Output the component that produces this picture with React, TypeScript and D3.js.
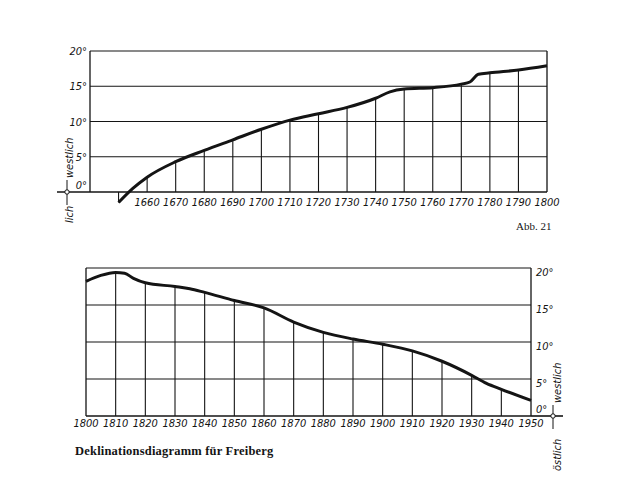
import React from "react";
import * as d3 from "d3";

// Upper diagram: declination 1650–1800 (degrees west)
const topYears = [1650, 1655, 1660, 1670, 1680, 1690, 1700, 1710, 1720, 1730, 1740, 1745, 1750, 1760, 1770, 1773, 1776, 1780, 1790, 1800];
const topValues = [-1.5, 0.5, 2.1, 4.3, 5.9, 7.4, 8.9, 10.2, 11.1, 12.0, 13.3, 14.2, 14.6, 14.8, 15.3, 15.6, 16.7, 16.9, 17.3, 17.9];
const topTicks = [1660, 1670, 1680, 1690, 1700, 1710, 1720, 1730, 1740, 1750, 1760, 1770, 1780, 1790, 1800];

// Lower diagram: declination 1800–1950
const botYears = [1800, 1805, 1810, 1813, 1816, 1820, 1830, 1835, 1840, 1850, 1860, 1870, 1880, 1890, 1900, 1910, 1920, 1930, 1935, 1940, 1950];
const botValues = [18.2, 19.0, 19.4, 19.3, 18.6, 18.0, 17.5, 17.2, 16.7, 15.6, 14.6, 12.7, 11.3, 10.4, 9.7, 8.8, 7.4, 5.5, 4.4, 3.6, 2.1];
const botTicks = [1800, 1810, 1820, 1830, 1840, 1850, 1860, 1870, 1880, 1890, 1900, 1910, 1920, 1930, 1940, 1950];

const degTicks = [0, 5, 10, 15, 20];
const degLabels = ["0°", "5°", "10°", "15°", "20°"];

const INK = "#141414";
const LBL = "'Liberation Sans Narrow', 'DejaVu Sans Condensed', sans-serif";

function valueAt(years: number[], values: number[], yr: number) {
  const i = years.indexOf(yr);
  if (i >= 0) return values[i];
  return d3.scaleLinear().domain(years).range(values)(yr);
}

export default function App() {
  // top scales
  const xT = d3.scaleLinear().domain([1640, 1800]).range([90, 547]);
  const yT = d3.scaleLinear().domain([0, 20]).range([192, 51]);
  // bottom scales
  const xB = d3.scaleLinear().domain([1800, 1950]).range([86, 531]);
  const yB = d3.scaleLinear().domain([0, 20]).range([416, 268]);

  const lineT = d3
    .line<number>()
    .x((_, i) => xT(topYears[i]))
    .y((d) => yT(d))
    .curve(d3.curveMonotoneX);
  const lineB = d3
    .line<number>()
    .x((_, i) => xB(botYears[i]))
    .y((d) => yB(d))
    .curve(d3.curveMonotoneX);

  const labelStyle: React.CSSProperties = {
    fontFamily: LBL,
    fontStyle: "italic",
    fontSize: 11,
    fill: INK,
  };

  return (
    <svg
      width={640}
      height={480}
      viewBox="0 0 640 480"
      style={{ position: "absolute", left: 0, top: 0, background: "#fff" }}
    >
      <rect x={0} y={0} width={640} height={480} fill="#fff" />

      {/* ===== TOP DIAGRAM ===== */}
      <g>
        {degTicks.map((d) => (
          <line key={"th" + d} x1={xT(1640)} x2={xT(1800)} y1={yT(d)} y2={yT(d)} stroke={INK} strokeWidth={d === 0 ? 1.6 : 1.1} />
        ))}
        <line x1={57} x2={xT(1640)} y1={yT(0)} y2={yT(0)} stroke={INK} strokeWidth={1.6} />
        <line x1={xT(1640)} x2={xT(1640)} y1={yT(0)} y2={yT(20)} stroke={INK} strokeWidth={1.3} />
        <line x1={xT(1800)} x2={xT(1800)} y1={yT(0)} y2={yT(20)} stroke={INK} strokeWidth={1.3} />
        {topTicks.slice(0, -1).map((yr) => (
          <line key={"tv" + yr} x1={xT(yr)} x2={xT(yr)} y1={yT(0)} y2={yT(valueAt(topYears, topValues, yr))} stroke={INK} strokeWidth={1.1} />
        ))}
        <line x1={xT(topYears[0])} x2={xT(topYears[0])} y1={yT(0)} y2={yT(topValues[0])} stroke={INK} strokeWidth={1.1} />
        <path d={lineT(topValues) || ""} fill="none" stroke={INK} strokeWidth={3} strokeLinejoin="round" />
        {degTicks.map((d, i) => (
          <text key={"tl" + d} x={87} y={d === 0 ? yT(0) - 3 : yT(d) + 4} textAnchor="end" style={labelStyle}>
            {degLabels[i]}
          </text>
        ))}
        {topTicks.map((yr) => (
          <text key={"ty" + yr} x={xT(yr)} y={206} textAnchor="middle" style={labelStyle}>
            {yr}
          </text>
        ))}
        <line x1={67} x2={67} y1={180} y2={205} stroke={INK} strokeWidth={1} />
        <circle cx={67} cy={yT(0)} r={2.2} fill="#fff" stroke={INK} strokeWidth={1} />
        <text transform={`translate(73,178) rotate(-90)`} style={labelStyle}>
          westlich
        </text>
        <text transform={`translate(73,223) rotate(-90)`} style={labelStyle}>
          lich
        </text>
        <text x={516} y={230} style={{ fontFamily: "'Liberation Serif', 'DejaVu Serif', serif", fontSize: 11, fill: INK }}>
          Abb. 21
        </text>
      </g>

      {/* ===== BOTTOM DIAGRAM ===== */}
      <g>
        {degTicks.map((d) => (
          <line key={"bh" + d} x1={xB(1800)} x2={xB(1950)} y1={yB(d)} y2={yB(d)} stroke={INK} strokeWidth={d === 0 ? 1.6 : 1.1} />
        ))}
        <line x1={xB(1950)} x2={563} y1={yB(0)} y2={yB(0)} stroke={INK} strokeWidth={1.6} />
        <line x1={xB(1800)} x2={xB(1800)} y1={yB(0)} y2={yB(20)} stroke={INK} strokeWidth={1.3} />
        <line x1={xB(1950)} x2={xB(1950)} y1={yB(0)} y2={yB(20)} stroke={INK} strokeWidth={1.3} />
        {botTicks.slice(1, -1).map((yr) => (
          <line key={"bv" + yr} x1={xB(yr)} x2={xB(yr)} y1={yB(0)} y2={yB(valueAt(botYears, botValues, yr))} stroke={INK} strokeWidth={1.1} />
        ))}
        <path d={lineB(botValues) || ""} fill="none" stroke={INK} strokeWidth={3} strokeLinejoin="round" />
        {degTicks.map((d, i) => (
          <text key={"bl" + d} x={536} y={d === 0 ? yB(0) - 3 : yB(d) + 8} textAnchor="start" style={labelStyle}>
            {degLabels[i]}
          </text>
        ))}
        {botTicks.map((yr) => (
          <text key={"by" + yr} x={xB(yr)} y={427} textAnchor="middle" style={labelStyle}>
            {yr}
          </text>
        ))}
        <line x1={553} x2={553} y1={405} y2={429} stroke={INK} strokeWidth={1} />
        <circle cx={553} cy={yB(0)} r={2.2} fill="#fff" stroke={INK} strokeWidth={1} />
        <text transform={`translate(561,403) rotate(-90)`} style={labelStyle}>
          westlich
        </text>
        <text transform={`translate(561,471) rotate(-90)`} style={labelStyle}>
          östlich
        </text>
        <text x={75} y={455} style={{ fontFamily: "'Liberation Serif', 'DejaVu Serif', serif", fontWeight: "bold", fontSize: 12.5, letterSpacing: 0.2, fill: INK }}>
          Deklinationsdiagramm für Freiberg
        </text>
      </g>
    </svg>
  );
}
